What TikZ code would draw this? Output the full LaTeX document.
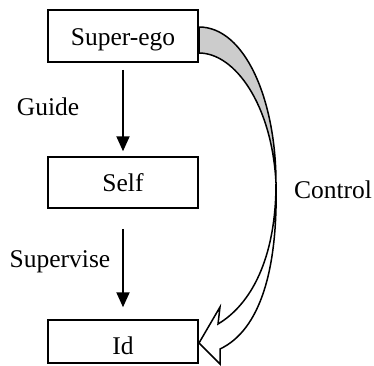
\documentclass[tikz,border=0pt]{standalone}
\usepackage{fontspec}
\setmainfont{Liberation Serif}
\usetikzlibrary{arrows.meta}
\begin{document}
\begin{tikzpicture}[x=1pt,y=-1pt,
  txt/.style={font=\fontsize{25.5}{30}\selectfont, inner sep=0pt},
  box/.style={txt, draw, line width=1.5pt, minimum width=150pt, text depth=0pt},
  flow/.style={line width=2pt, -{Triangle[width=13pt,length=15pt]}},
  ribbon/.style={draw, line width=1.5pt, line join=miter}]
\useasboundingbox (0,0) rectangle (374,365);
% boxes
\node[box, minimum height=52pt, text height=18pt] (sup) at (123,36) {Super-ego};
\node[box, minimum height=51pt, text height=17pt] (self) at (123,182.5) {Self};
\node[box, minimum height=43pt, text height=25pt] (id) at (123,341.5) {Id};
% straight arrows
\draw[flow, shorten <=7pt, shorten >=5pt] (sup.south) -- (self.north);
\draw[flow, shorten <=20pt, shorten >=12pt] (self.south) -- (id.north);
% labels
\node[txt, anchor=base] (guide) at (48,115) {Guide};
\node[txt, anchor=base] (superv) at (60,267) {Supervise};
\node[txt, anchor=base] (control) at (333,198) {Control};
% curved block arrow
\coordinate (m) at (276,183);
\path[ribbon, fill=black!20]
  (199,27) .. controls (245,27) and (276,100) .. (m)
  .. controls (272,105) and (235,53) .. (199,53) -- cycle;
\path[ribbon, fill=white]
  (m) .. controls (276,260) and (250,305) .. (218,324)
  -- (220,307) -- (199,343) -- (220,364) -- (220,349)
  .. controls (260,330) and (278,270) .. (m);
\end{tikzpicture}
\end{document}
